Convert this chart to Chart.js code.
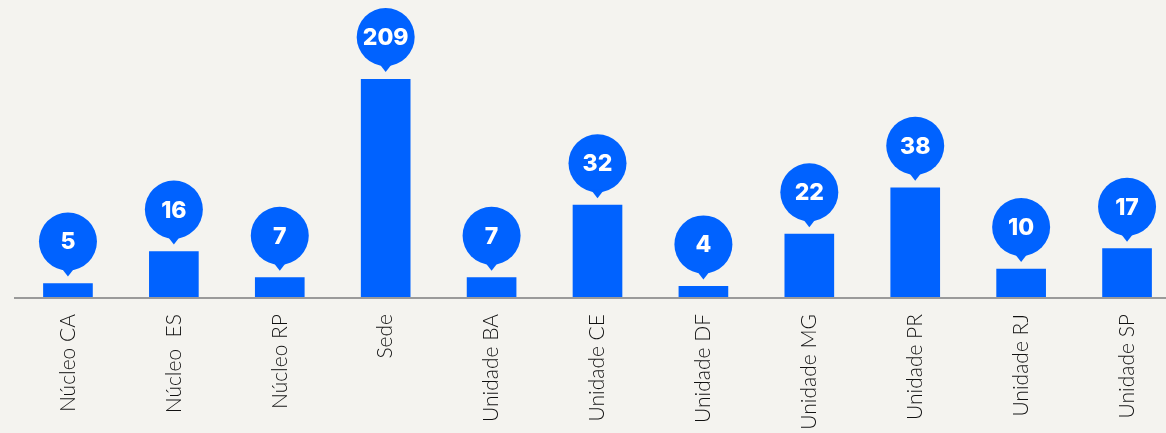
<!DOCTYPE html>
<html>
<head>
<meta charset="utf-8">
<script src="https://cdn.jsdelivr.net/npm/chart.js@4.4.1/dist/chart.umd.min.js"></script>
<style>
  html, body { margin: 0; padding: 0; background: #f4f3ef; overflow: hidden; }
  #wrap { width: 1180px; height: 433px; }
</style>
</head>
<body>
<div id="wrap"><canvas id="myChart" width="1180" height="433"></canvas></div>
<script>
// data
const units = ["Núcleo CA", "Núcleo  ES", "Núcleo RP", "Sede", "Unidade BA", "Unidade CE",
  "Unidade DF", "Unidade MG", "Unidade PR", "Unidade RJ", "Unidade SP"];
const counts = [5, 16, 7, 209, 7, 32, 4, 22, 38, 10, 17];

const blue = "#0062ff";

// bubble labels above each bar
const bubbles = {
  id: "bubbles",
  afterDatasetsDraw(chart) {
    const ctx = chart.ctx;
    const area = chart.chartArea;
    const meta = chart.getDatasetMeta(0);
    ctx.save();
    meta.data.forEach((bar, i) => {
      const top = Math.max(bar.y, area.top);
      const cx = bar.x;
      const cy = top - 42;
      ctx.fillStyle = blue;
      ctx.beginPath();
      ctx.arc(cx, cy, 29, 0, Math.PI * 2);
      ctx.fill();
      ctx.beginPath();
      ctx.moveTo(cx - 7, cy + 26);
      ctx.lineTo(cx + 7, cy + 26);
      ctx.lineTo(cx, cy + 35);
      ctx.closePath();
      ctx.fill();
      ctx.fillStyle = "#ffffff";
      ctx.font = "800 23px Inter, 'Open Sans', sans-serif";
      ctx.textAlign = "center";
      ctx.textBaseline = "middle";
      ctx.fillText(String(counts[i]), cx, cy + 1);
    });
    ctx.restore();
  }
};

const data = {
  labels: units,
  datasets: [{
    data: counts,
    backgroundColor: blue,
    borderWidth: 0,
    barThickness: 49,
    clip: 0
  }]
};

const config = {
  type: "bar",
  data,
  options: {
    responsive: false,
    animation: false,
    layout: { padding: { top: 79, left: 15, right: 0, bottom: 0 } },
    plugins: { legend: { display: false }, tooltip: { enabled: false } },
    scales: {
      x: {
        grid: { display: false, drawTicks: false },
        border: { display: true, color: "#9a9a9a", width: 2, z: 1 },
        ticks: {
          minRotation: 90,
          maxRotation: 90,
          padding: 16,
          color: "#111111",
          font: { family: "Lato, 'DejaVu Sans', sans-serif", size: 21, weight: "300" }
        },
        afterFit(scale) { scale.height = 135; }
      },
      y: {
        display: false,
        min: 0,
        max: 75.5
      }
    }
  },
  plugins: [bubbles]
};

const myChart = new Chart(document.getElementById("myChart"), config);
</script>
</body>
</html>
